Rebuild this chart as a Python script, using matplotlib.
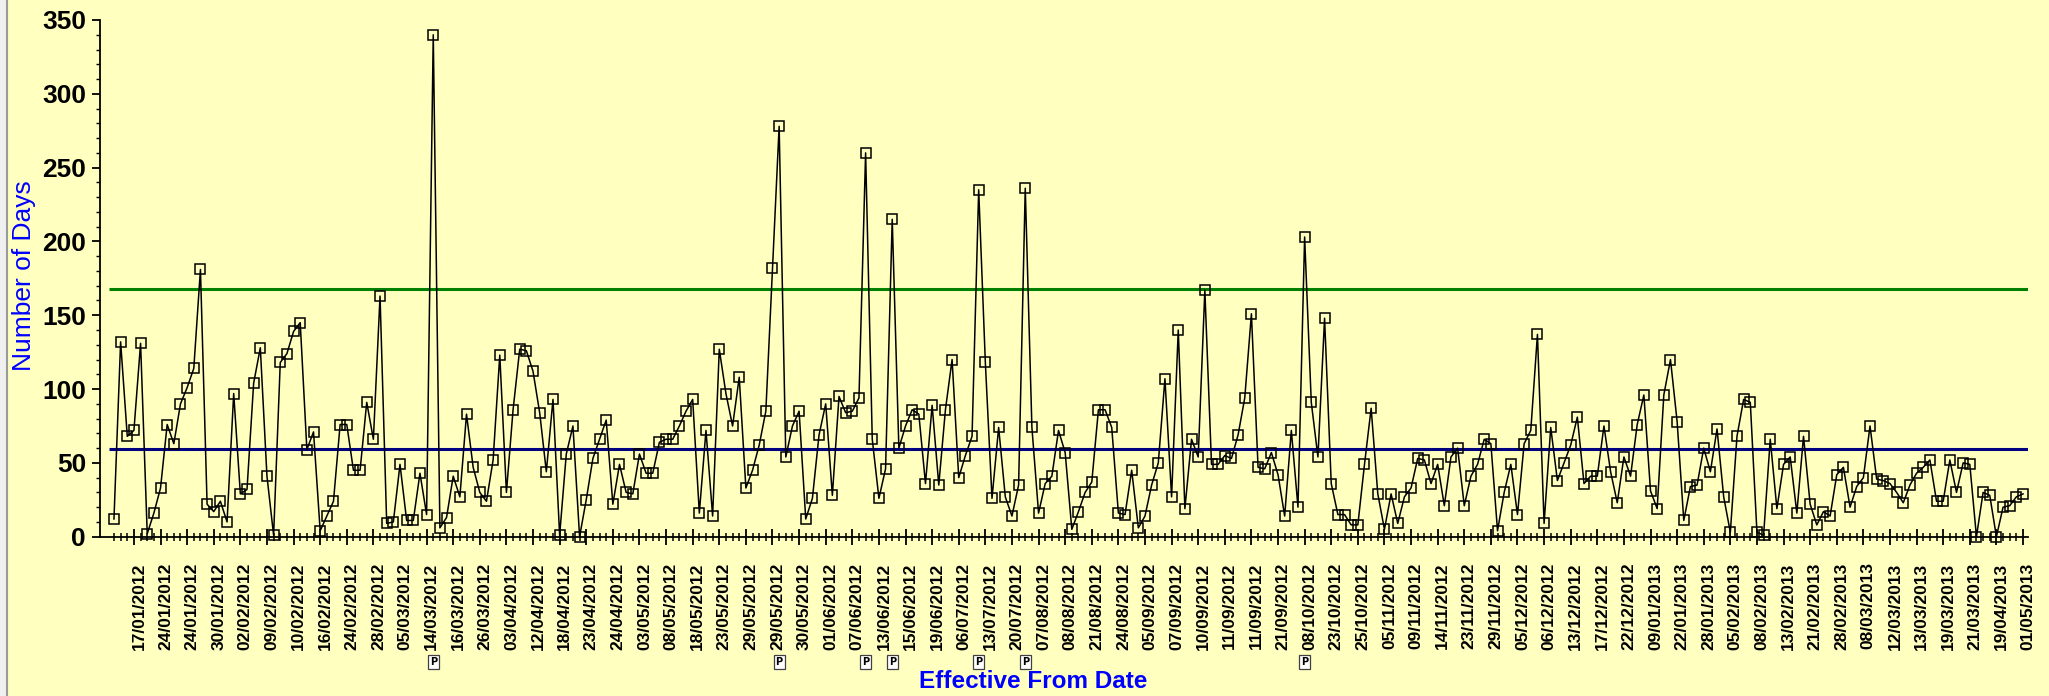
import numpy as np
import matplotlib
matplotlib.use("Agg")
import matplotlib.pyplot as plt
import matplotlib.transforms as mtransforms
from matplotlib.ticker import MultipleLocator

# number of days for each change, in order of effective date
days = [12, 132, 68, 72, 131, 2, 16, 33, 76, 63, 90, 101, 114, 181, 22, 17, 24, 10, 97, 29,
        32, 104, 128, 41, 1, 118, 124, 139, 145, 59, 71, 4, 14, 24, 76, 76, 45, 45, 91, 66,
        163, 9, 10, 49, 11, 11, 43, 15, 340, 6, 13, 41, 27, 83, 47, 30, 24, 52, 123, 30,
        86, 127, 126, 112, 84, 44, 93, 1, 56, 75, 0, 25, 53, 66, 79, 22, 49, 30, 29, 56,
        43, 43, 64, 66, 66, 75, 85, 93, 16, 72, 14, 127, 97, 75, 108, 33, 45, 62, 85, 182,
        278, 54, 75, 85, 12, 26, 69, 90, 28, 95, 84, 85, 94, 260, 66, 26, 46, 215, 60, 75,
        86, 83, 36, 89, 35, 86, 120, 40, 55, 68, 235, 118, 26, 74, 27, 14, 35, 236, 74, 16,
        36, 41, 72, 57, 5, 17, 30, 37, 86, 86, 74, 16, 15, 45, 6, 14, 35, 50, 107, 27,
        140, 19, 66, 54, 167, 49, 49, 55, 53, 69, 94, 151, 47, 46, 57, 42, 14, 72, 20, 203,
        91, 54, 148, 36, 15, 15, 8, 8, 49, 87, 29, 5, 29, 9, 27, 33, 53, 52, 36, 49,
        21, 54, 60, 21, 41, 49, 66, 63, 4, 30, 49, 15, 63, 72, 137, 9, 74, 38, 50, 62,
        81, 36, 41, 41, 75, 44, 23, 54, 41, 76, 96, 31, 19, 96, 120, 78, 11, 34, 35, 60,
        44, 73, 27, 3, 68, 93, 91, 3, 1, 66, 19, 49, 54, 16, 68, 22, 8, 17, 14, 42,
        47, 20, 34, 40, 75, 39, 38, 36, 30, 23, 35, 43, 47, 52, 24, 24, 52, 30, 50, 49,
        0, 30, 28, 0, 20, 21, 27, 29]

# date shown under every fourth point
tick_dates = ["17/01/2012", "24/01/2012", "24/01/2012", "30/01/2012", "02/02/2012", "09/02/2012",
              "10/02/2012", "16/02/2012", "24/02/2012", "28/02/2012", "05/03/2012", "14/03/2012",
              "16/03/2012", "26/03/2012", "03/04/2012", "12/04/2012", "18/04/2012", "23/04/2012",
              "24/04/2012", "03/05/2012", "08/05/2012", "18/05/2012", "23/05/2012", "29/05/2012",
              "29/05/2012", "30/05/2012", "01/06/2012", "07/06/2012", "13/06/2012", "15/06/2012",
              "19/06/2012", "06/07/2012", "13/07/2012", "20/07/2012", "07/08/2012", "08/08/2012",
              "21/08/2012", "24/08/2012", "05/09/2012", "07/09/2012", "10/09/2012", "11/09/2012",
              "11/09/2012", "21/09/2012", "08/10/2012", "23/10/2012", "25/10/2012", "05/11/2012",
              "09/11/2012", "14/11/2012", "23/11/2012", "29/11/2012", "05/12/2012", "06/12/2012",
              "13/12/2012", "17/12/2012", "22/12/2012", "09/01/2013", "22/01/2013", "28/01/2013",
              "05/02/2013", "08/02/2013", "13/02/2013", "21/02/2013", "28/02/2013", "08/03/2013",
              "12/03/2013", "13/03/2013", "19/03/2013", "21/03/2013", "19/04/2013", "01/05/2013"]

# points carrying a note flag
flagged = [48, 100, 113, 117, 130, 137, 179]

upper_limit = 167.6
centre_line = 59.3

bg = "#FFFFC0"
fig = plt.figure(figsize=(20.49, 6.96), dpi=100, facecolor=bg)
ax = fig.add_axes([100 / 2049, 1 - 536.7 / 696, 1928 / 2049, 516.7 / 696])
ax.set_facecolor(bg)

x = np.arange(len(days))
ax.hlines(upper_limit, -0.75, len(days) - 0.25, color="#008000", lw=2.2, zorder=2)
ax.hlines(centre_line, -0.75, len(days) - 0.25, color="#000080", lw=2.2, zorder=2)
ax.plot(x, days, color="black", lw=1.1, marker="s", ms=7.6, mfc="none", mec="black",
        mew=1.1, clip_on=False, zorder=3)

ax.set_xlim(-2.1, len(days) - 0.25)
ax.set_ylim(0, 350)
for s in ["top", "right"]:
    ax.spines[s].set_visible(False)
ax.spines["left"].set_linewidth(1.3)
ax.spines["bottom"].set_linewidth(1.3)

# x ticks: minor at every point, labelled major at every fourth
ax.set_xticks(x[3::4])
ax.set_xticks(x, minor=True)
ax.set_xticklabels(tick_dates, rotation=90, fontsize=12.5, fontweight="bold",
                   family="Liberation Sans")
ax.tick_params(axis="x", which="major", direction="inout", length=11, width=1.3, pad=13)
ax.tick_params(axis="x", which="minor", direction="inout", length=6, width=1.1)
shift = mtransforms.ScaledTranslation(5 / 100, 0, fig.dpi_scale_trans)
for lab in ax.get_xticklabels():
    lab.set_transform(lab.get_transform() + shift)
    lab.set_verticalalignment("top")

ax.yaxis.set_major_locator(MultipleLocator(50))
ax.yaxis.set_minor_locator(MultipleLocator(10))
ax.tick_params(axis="y", which="major", direction="out", length=6, width=1.3, pad=4,
               labelsize=19)
ax.tick_params(axis="y", which="minor", direction="out", length=3, width=1.0)
for lab in ax.get_yticklabels():
    lab.set_fontweight("bold")
    lab.set_family("Liberation Sans")

fig.text(24 / 2049, 1 - 276 / 696, "Number of Days", rotation=90, color="#0000FF",
         fontsize=19, family="Liberation Sans", ha="center", va="center")
fig.text(1033 / 2049, 1 - 682 / 696, "Effective From Date", color="#0000FF",
         fontsize=17.5, fontweight="bold", family="Liberation Sans", ha="center", va="center")

# note flags under the date labels
flag_tr = mtransforms.blended_transform_factory(ax.transData, fig.transFigure)
for i in flagged:
    ax.text(i, 1 - 662 / 696, "P", transform=flag_tr, fontsize=7, fontweight="bold",
            ha="center", va="center", clip_on=False,
            bbox=dict(boxstyle="square,pad=0.2", fc="white", ec="#404040", lw=0.9))

# window border on the left
fig.add_artist(plt.Rectangle((0, 0), 6 / 2049, 1, transform=fig.transFigure,
                             color="#F0F0F0", zorder=0))
fig.add_artist(plt.Line2D([6.5 / 2049] * 2, [0, 1], transform=fig.transFigure,
                          color="#9A9A9A", lw=1.5))

fig.savefig("out.png", dpi=100, facecolor=bg)
